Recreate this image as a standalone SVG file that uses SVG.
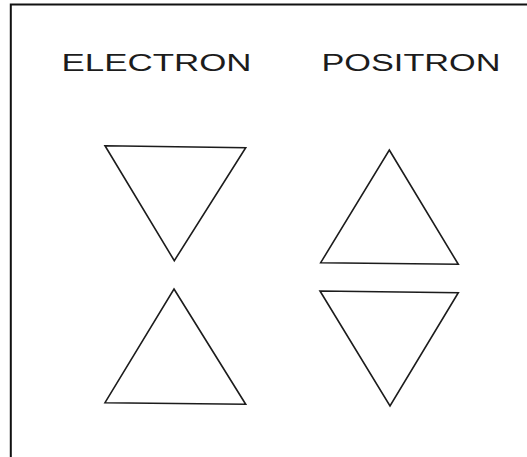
<svg xmlns="http://www.w3.org/2000/svg" width="527" height="457" viewBox="0 0 527 457">
<style>
.lbl{font-family:"Liberation Sans",Arial,sans-serif;font-size:24.5px;fill:#1c1c1c;}
.tri{fill:none;stroke:#1c1c1c;stroke-width:1.6;stroke-linejoin:miter;}
.frame{stroke:#111;stroke-width:2;fill:none;}
</style>
<rect width="527" height="457" fill="#ffffff"/>
<g id="frame">
<polyline class="frame" points="10.8,457 10.8,4.5 527,4.5"/>
</g>
<g id="label-electron">
<text class="lbl" x="61.5" y="70.8" textLength="190" lengthAdjust="spacingAndGlyphs">ELECTRON</text>
</g>
<g id="label-positron">
<text class="lbl" x="321.5" y="70.8" textLength="179" lengthAdjust="spacingAndGlyphs">POSITRON</text>
</g>
<g id="electron-top">
<polygon class="tri" points="105,145.7 245.7,147.7 174.3,260.7"/>
</g>
<g id="electron-bottom">
<polygon class="tri" points="174,289 245.7,404.3 105,402.7"/>
</g>
<g id="positron-top">
<polygon class="tri" points="389.3,150 458.3,264.3 320.7,262.7"/>
</g>
<g id="positron-bottom">
<polygon class="tri" points="320,291 458.3,292.7 390,406"/>
</g>
<g id="connectors"></g>
</svg>
